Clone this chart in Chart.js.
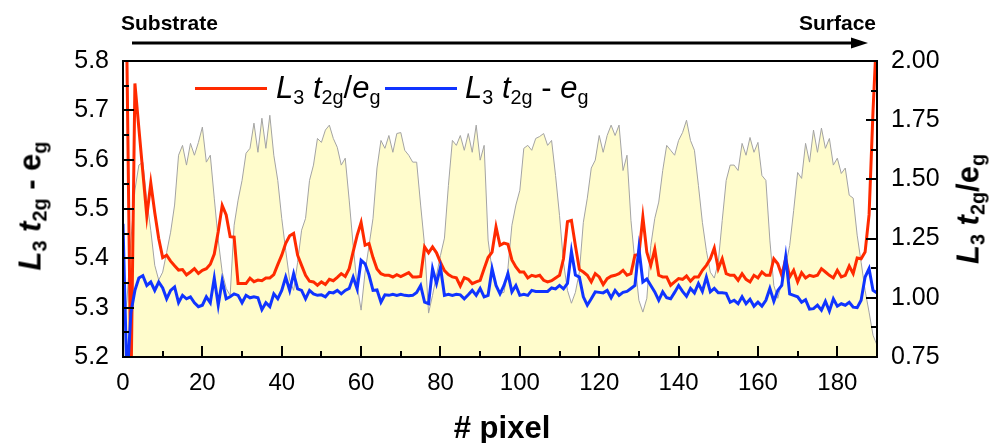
<!DOCTYPE html>
<html>
<head>
<meta charset="utf-8">
<script src="https://cdn.jsdelivr.net/npm/chart.js@4.4.0/dist/chart.umd.min.js"></script>
<style>
  html, body { margin: 0; padding: 0; background: #fff; }
  #wrap { position: relative; width: 992px; height: 443px; font-family: "Liberation Sans", Arial, sans-serif; color: #000; }
  #plot { position: absolute; left: 0; top: 0; }
  #marks { position: absolute; left: 0; top: 0; z-index: 5; pointer-events: none; }
  #frame { position: absolute; left: 122px; top: 60px; width: 756px; height: 298px; border: 2px solid #000; box-sizing: border-box; z-index: 6; pointer-events: none; }
  .txt { position: absolute; white-space: nowrap; line-height: 1; }
  .sub { font-size: 0.64em; position: relative; top: 0.32em; }
  .i { font-style: italic; }
  .rot { transform: translate(-50%, -50%) rotate(-90deg); font-weight: bold; font-size: 31px; }
  .key { position: absolute; height: 3px; width: 72px; }
  .leg { font-size: 31px; }
</style>
</head>
<body>
<div id="wrap">
  <canvas id="plot" width="992" height="443"></canvas>

  <div class="txt" style="left:121px; top:12px; font-weight:bold; font-size:21px;">Substrate</div>
  <div class="txt" style="left:799px; top:12px; font-weight:bold; font-size:21px;">Surface</div>

  <div class="key" style="left:195px; top:87px; background:#ff2a00;"></div>
  <div class="txt leg" style="left:276px; top:72px;"><span class="i">L</span><span class="sub">3</span> <span class="i">t</span><span class="sub">2g</span>/<span class="i">e</span><span class="sub">g</span></div>
  <div class="key" style="left:385px; top:87px; background:#1034ff;"></div>
  <div class="txt leg" style="left:465px; top:72px;"><span class="i">L</span><span class="sub">3</span> <span class="i">t</span><span class="sub">2g</span> - <span class="i">e</span><span class="sub">g</span></div>

  <div class="txt rot" style="left:30px; top:206px;"><span class="i">L</span><span class="sub">3</span> <span class="i">t</span><span class="sub">2g</span> - e<span class="sub">g</span></div>
  <div class="txt rot" style="left:968px; top:209px;"><span class="i">L</span><span class="sub">3</span> <span class="i">t</span><span class="sub">2g</span>/e<span class="sub">g</span></div>

  <div class="txt" style="left:502px; top:412px; transform:translateX(-50%); font-weight:bold; font-size:31px;"># pixel</div>

  <canvas id="marks" width="992" height="443"></canvas>
  <div id="frame"></div>
</div>

<script>
// pixel position along the line scan (substrate -> surface)
const pixels = [
  0,1,2,3,4,5,6,7,8,9,10,11,12,13,14,15,16,17,18,19,
  20,21,22,23,24,25,26,27,28,29,30,31,32,33,34,35,36,37,38,39,
  40,41,42,43,44,45,46,47,48,49,50,51,52,53,54,55,56,57,58,59,
  60,61,62,63,64,65,66,67,68,69,70,71,72,73,74,75,76,77,78,79,
  80,81,82,83,84,85,86,87,88,89,90,91,92,93,94,95,96,97,98,99,
  100,101,102,103,104,105,106,107,108,109,110,111,112,113,114,115,116,117,118,119,
  120,121,122,123,124,125,126,127,128,129,130,131,132,133,134,135,136,137,138,139,
  140,141,142,143,144,145,146,147,148,149,150,151,152,153,154,155,156,157,158,159,
  160,161,162,163,164,165,166,167,168,169,170,171,172,173,174,175,176,177,178,179,
  180,181,182,183,184,185,186,187,188,189,190
];

// intensity profile in the background (plotted against the left scale)
const profile = [
  5.254,5.315,5.437,5.538,5.589,5.595,5.518,5.457,5.386,5.356,
  5.372,5.412,5.453,5.508,5.609,5.629,5.589,5.633,5.609,5.635,
  5.666,5.595,5.609,5.522,5.437,5.372,5.339,5.325,5.467,5.518,
  5.558,5.613,5.623,5.674,5.615,5.684,5.623,5.690,5.609,5.558,
  5.481,5.416,5.356,5.335,5.392,5.457,5.481,5.558,5.589,5.643,
  5.635,5.660,5.670,5.643,5.625,5.589,5.603,5.518,5.426,5.345,
  5.295,5.372,5.426,5.481,5.583,5.639,5.623,5.649,5.615,5.653,
  5.655,5.619,5.609,5.595,5.595,5.508,5.426,5.289,5.325,5.366,
  5.406,5.441,5.548,5.639,5.629,5.649,5.619,5.653,5.615,5.670,
  5.599,5.629,5.437,5.376,5.345,5.329,5.331,5.380,5.467,5.508,
  5.538,5.623,5.629,5.619,5.643,5.647,5.653,5.629,5.639,5.568,
  5.487,5.392,5.335,5.309,5.331,5.372,5.473,5.522,5.583,5.599,
  5.649,5.615,5.649,5.670,5.649,5.670,5.578,5.609,5.477,5.392,
  5.315,5.291,5.319,5.426,5.481,5.514,5.578,5.629,5.619,5.609,
  5.639,5.655,5.680,5.639,5.619,5.548,5.473,5.416,5.372,5.360,
  5.392,5.477,5.558,5.589,5.589,5.578,5.633,5.609,5.645,5.615,
  5.635,5.568,5.558,5.437,5.345,5.319,5.351,5.386,5.426,5.497,
  5.574,5.562,5.633,5.595,5.660,5.615,5.664,5.623,5.643,5.589,
  5.603,5.572,5.583,5.528,5.522,5.447,5.392,5.335,5.291,5.244,
  5.224
];

// L3 t2g/eg ratio (right scale)
const ratioT2gEg = [
  2.1,2.0,0.6,1.905,1.715,1.53,1.345,1.485,1.36,1.25,
  1.17,1.18,1.155,1.135,1.117,1.119,1.097,1.109,1.123,1.103,
  1.116,1.123,1.142,1.185,1.28,1.39,1.35,1.258,1.256,1.06,
  1.06,1.06,1.083,1.068,1.075,1.072,1.084,1.084,1.098,1.14,
  1.18,1.23,1.262,1.272,1.18,1.137,1.095,1.07,1.067,1.053,
  1.067,1.056,1.078,1.072,1.086,1.102,1.09,1.123,1.195,1.264,
  1.318,1.222,1.229,1.17,1.122,1.102,1.095,1.095,1.088,1.098,
  1.09,1.098,1.106,1.088,1.088,1.09,1.215,1.19,1.215,1.19,
  1.15,1.115,1.098,1.088,1.084,1.05,1.085,1.078,1.06,1.067,
  1.074,1.123,1.17,1.193,1.299,1.222,1.231,1.226,1.16,1.13,
  1.109,1.109,1.084,1.095,1.09,1.095,1.074,1.067,1.072,1.084,
  1.095,1.165,1.322,1.327,1.22,1.12,1.109,1.095,1.067,1.102,
  1.088,1.056,1.081,1.091,1.095,1.102,1.116,1.095,1.102,1.18,
  1.183,1.341,1.193,1.137,1.205,1.095,1.088,1.088,1.053,1.067,
  1.081,1.078,1.092,1.07,1.088,1.088,1.116,1.137,1.165,1.21,
  1.123,1.165,1.102,1.095,1.095,1.074,1.102,1.078,1.067,1.095,
  1.084,1.109,1.095,1.095,1.165,1.144,1.095,1.165,1.088,1.116,
  1.067,1.106,1.084,1.095,1.09,1.095,1.123,1.109,1.095,1.084,
  1.116,1.088,1.095,1.134,1.102,1.168,1.165,1.193,1.35,1.79,
  2.15
];

// L3 t2g - eg splitting (left scale)
const diffT2gEg = [
  5.47,5.15,5.29,5.335,5.36,5.365,5.345,5.352,5.335,5.352,
  5.34,5.318,5.335,5.342,5.31,5.325,5.318,5.322,5.31,5.302,
  5.305,5.322,5.31,5.36,5.305,5.355,5.318,5.322,5.328,5.325,
  5.31,5.325,5.32,5.322,5.32,5.296,5.31,5.302,5.328,5.318,
  5.335,5.362,5.335,5.369,5.338,5.335,5.318,5.335,5.328,5.325,
  5.326,5.322,5.331,5.33,5.335,5.328,5.335,5.339,5.362,5.338,
  5.396,5.389,5.366,5.335,5.336,5.311,5.326,5.325,5.327,5.325,
  5.327,5.325,5.324,5.325,5.331,5.345,5.311,5.308,5.379,5.349,
  5.382,5.325,5.327,5.325,5.327,5.326,5.318,5.326,5.335,5.325,
  5.339,5.322,5.325,5.379,5.345,5.328,5.345,5.369,5.332,5.345,
  5.325,5.327,5.325,5.335,5.333,5.333,5.333,5.333,5.34,5.338,
  5.345,5.338,5.349,5.414,5.366,5.362,5.322,5.305,5.318,5.332,
  5.331,5.33,5.335,5.32,5.335,5.325,5.331,5.333,5.339,5.345,
  5.42,5.352,5.358,5.345,5.332,5.315,5.332,5.32,5.318,5.331,
  5.345,5.333,5.323,5.339,5.33,5.349,5.333,5.362,5.332,5.339,
  5.33,5.33,5.329,5.311,5.315,5.308,5.322,5.308,5.317,5.303,
  5.311,5.303,5.315,5.339,5.313,5.335,5.345,5.403,5.328,5.325,
  5.322,5.311,5.316,5.297,5.298,5.305,5.295,5.313,5.293,5.318,
  5.303,5.308,5.305,5.311,5.301,5.3,5.315,5.362,5.379,5.335,
  5.33
];

// axis ticks
const xTicks = [0, 20, 40, 60, 80, 100, 120, 140, 160, 180];
const xMinor = [10, 30, 50, 70, 90, 110, 130, 150, 170];
const leftTicks = [5.2, 5.3, 5.4, 5.5, 5.6, 5.7, 5.8];
const leftMinor = [5.25, 5.35, 5.45, 5.55, 5.65, 5.75];
const rightTicks = [0.75, 1.0, 1.25, 1.5, 1.75, 2.0];
const rightMinor = [0.875, 1.125, 1.375, 1.625, 1.875];

const MAJOR = 11, MINOR = 6;

function toPoints(vals) {
  return pixels.map((p, i) => ({ x: p, y: vals[i] }));
}

// inward tick marks and the box, from the chart's own scales
function drawTicks(ctx, c) {
  const a = c.chartArea;
  const sx = c.scales.x, sl = c.scales.y, sr = c.scales.y1;
  ctx.save();
  ctx.strokeStyle = '#000';
  ctx.lineWidth = 2;
  ctx.beginPath();
  for (const v of xTicks.concat(xMinor)) {
    const px = Math.round(sx.getPixelForValue(v));
    const len = xTicks.includes(v) ? MAJOR : MINOR;
    ctx.moveTo(px, a.bottom);
    ctx.lineTo(px, a.bottom - len);
  }
  for (const v of leftTicks.concat(leftMinor)) {
    const py = Math.round(sl.getPixelForValue(v));
    const len = leftTicks.includes(v) ? MAJOR : MINOR;
    ctx.moveTo(a.left, py);
    ctx.lineTo(a.left + len, py);
  }
  for (const v of rightTicks.concat(rightMinor)) {
    const py = Math.round(sr.getPixelForValue(v));
    const len = rightTicks.includes(v) ? MAJOR : MINOR;
    ctx.moveTo(a.right, py);
    ctx.lineTo(a.right - len, py);
  }
  ctx.stroke();
  ctx.beginPath();
  ctx.rect(a.left, a.top, a.right - a.left, a.bottom - a.top);
  ctx.stroke();
  ctx.restore();
}

const frameTicks = {
  id: 'frameTicks',
  afterDraw(c) {
    const ctx = c.ctx;
    drawTicks(ctx, c);

    // same marks on the overlay canvas, above everything
    const over = document.getElementById('marks').getContext('2d');
    over.clearRect(0, 0, 992, 443);
    drawTicks(over, c);

    // arrow above the plot
    const a = c.chartArea;
    const ay = 43;
    ctx.save();
    ctx.strokeStyle = '#000';
    ctx.lineWidth = 3;
    ctx.beginPath();
    ctx.moveTo(a.left + 9, ay);
    ctx.lineTo(a.right - 20, ay);
    ctx.stroke();
    ctx.fillStyle = '#000';
    ctx.beginPath();
    ctx.moveTo(a.right - 9, ay);
    ctx.lineTo(a.right - 26, ay - 5.5);
    ctx.lineTo(a.right - 26, ay + 5.5);
    ctx.closePath();
    ctx.fill();
    ctx.restore();
  }
};

Chart.defaults.font.family = "'Liberation Sans', Arial, sans-serif";
Chart.defaults.color = '#000';

new Chart(document.getElementById('plot').getContext('2d'), {
  type: 'line',
  data: {
    datasets: [
      { label: 'L3 t2g - eg', data: toPoints(diffT2gEg), yAxisID: 'y', borderColor: '#1034ff', borderWidth: 3,
        pointRadius: 0, tension: 0, fill: false, clip: 0, order: 0 },
      { label: 'L3 t2g/eg', data: toPoints(ratioT2gEg), yAxisID: 'y1', borderColor: '#ff2a00', borderWidth: 3,
        pointRadius: 0, tension: 0, fill: false, clip: 0, order: 1 },
      { label: 'profile', data: toPoints(profile), yAxisID: 'y', borderColor: '#a3a3a3', borderWidth: 1,
        backgroundColor: '#fffccc', pointRadius: 0, tension: 0, fill: 'start', clip: 0, order: 2 }
    ]
  },
  options: {
    responsive: false,
    animation: false,
    events: [],
    layout: { padding: { top: 61, left: 0, right: 0, bottom: 0 } },
    plugins: { legend: { display: false }, tooltip: { enabled: false } },
    scales: {
      x: { type: 'linear', min: 0, max: 190, afterFit: s => { s.height = 86; },
           afterBuildTicks: s => { s.ticks = xTicks.map(v => ({ value: v })); },
           grid: { display: false, drawTicks: false }, border: { display: false },
           ticks: { padding: 12, font: { size: 24 }, maxRotation: 0, autoSkip: false } },
      y: { position: 'left', min: 5.2, max: 5.8, afterFit: s => { s.width = 123; },
           afterBuildTicks: s => { s.ticks = leftTicks.map(v => ({ value: v })); },
           grid: { display: false, drawTicks: false }, border: { display: false },
           ticks: { padding: 14, font: { size: 25 }, callback: v => v.toFixed(1) } },
      y1: { position: 'right', min: 0.75, max: 2.0, afterFit: s => { s.width = 115; },
           afterBuildTicks: s => { s.ticks = rightTicks.map(v => ({ value: v })); },
           grid: { display: false, drawTicks: false }, border: { display: false },
           ticks: { padding: 14, font: { size: 25 }, callback: v => v.toFixed(2) } }
    }
  },
  plugins: [frameTicks]
});
</script>
</body>
</html>
